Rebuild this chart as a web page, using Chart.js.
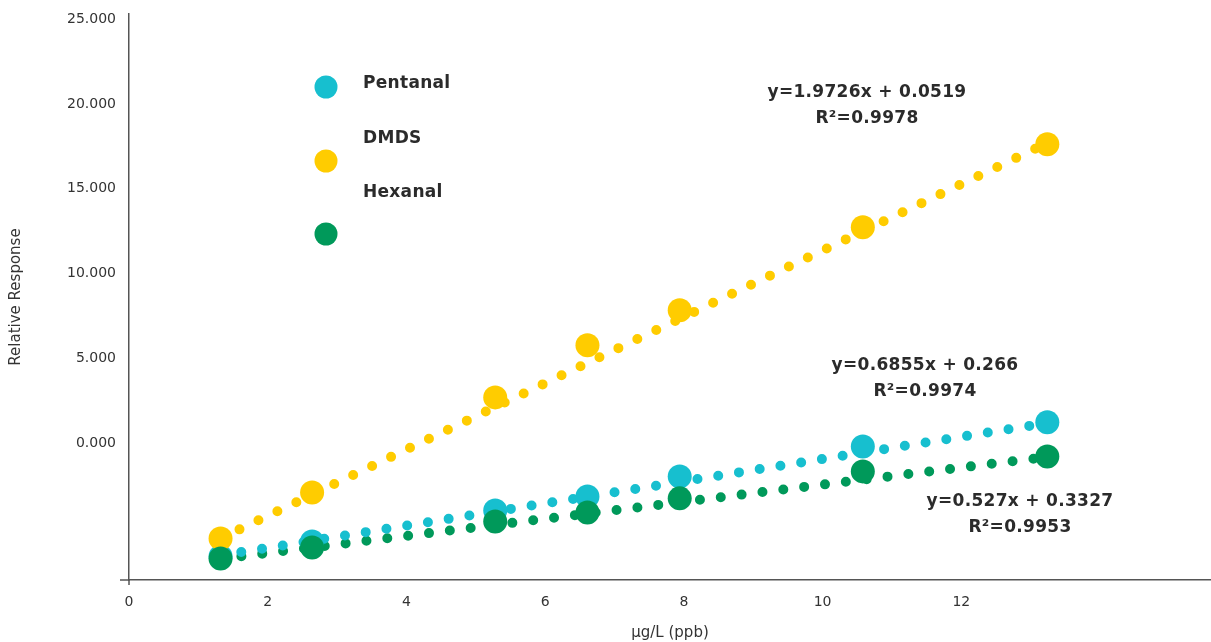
<!DOCTYPE html>
<html>
<head>
<meta charset="utf-8">
<script src="https://cdn.jsdelivr.net/npm/chart.js@4/dist/chart.umd.min.js"></script>
<style>
  html, body { margin: 0; padding: 0; background: #fff; overflow: hidden; }
  #wrap { width: 1211px; height: 642px; position: relative; }
  canvas { display: block; }
</style>
</head>
<body>
<div id="wrap"><canvas id="chart-area"></canvas></div>
<script>
// concentrations (µg/L)
var conc = [1.32, 2.64, 5.28, 6.61, 7.94, 10.58, 13.24];

// relative response (in the chart's own y units)
var pentanal = [-6.66, -5.78, -3.95, -3.13, -1.95, -0.18, 1.24];
var dmds     = [-5.6, -2.89, 2.71, 5.78, 7.84, 12.74, 17.63];
var hexanal  = [-6.78, -6.13, -4.6, -4.07, -3.24, -1.65, -0.77];

// trend line end points
var trendX        = [1.32, 13.24];
var pentanalTrend = [-6.6, 1.2];
var dmdsTrend     = [-5.6, 17.7];
var hexanalTrend  = [-6.8, -0.8];

var yTicks = [0, 5, 10, 15, 20, 25];
var xTicks = [0, 2, 4, 6, 8, 10, 12];

var names  = ['Pentanal', 'DMDS', 'Hexanal'];
var colors = ['#17bfcf', '#ffcc00', '#00995a'];

var equations = [
    ['y=1.9726x + 0.0519', 'R²=0.9978', 867, 93],
    ['y=0.6855x + 0.266', 'R²=0.9974', 925, 366],
    ['y=0.527x + 0.3327', 'R²=0.9953', 1020, 502]
];

function pts(xs, ys) {
    return xs.map(function (x, i) { return { x: x, y: ys[i] }; });
}

function trend(ys, c) {
    return {
        type: 'line',
        data: pts(trendX, ys),
        borderColor: c,
        borderWidth: 10,
        borderDash: [0, 21],
        borderCapStyle: 'round',
        pointRadius: 0,
        fill: false,
        order: 5
    };
}

function marks(label, ys, c, ord) {
    return {
        type: 'scatter',
        label: label,
        data: pts(conc, ys),
        backgroundColor: c,
        borderWidth: 0,
        pointRadius: 12,
        order: ord
    };
}

var extras = {
    id: 'extras',
    afterDraw: function (chart) {
        var ctx = chart.ctx;
        var xs = chart.scales.x, ys = chart.scales.y;
        var x0 = xs.getPixelForValue(0), yb = ys.bottom;
        ctx.save();
        // small axis overhangs at origin
        ctx.strokeStyle = '#555';
        ctx.lineWidth = 1.5;
        ctx.beginPath();
        ctx.moveTo(120, yb); ctx.lineTo(x0, yb);
        ctx.moveTo(x0, yb); ctx.lineTo(x0, yb + 5);
        ctx.stroke();

        // legend
        var circY = [87, 161, 234];
        var textY = [84, 139, 193];
        ctx.font = 'bold 17px "DejaVu Sans", Verdana, sans-serif';
        ctx.letterSpacing = '0.3px';
        ctx.textBaseline = 'middle';
        ctx.textAlign = 'left';
        for (var i = 0; i < names.length; i++) {
            ctx.fillStyle = colors[i];
            ctx.beginPath();
            ctx.arc(326, circY[i], 11.5, 0, Math.PI * 2);
            ctx.fill();
            ctx.fillStyle = '#2b2b2b';
            ctx.fillText(names[i], 363, textY[i]);
        }

        // equations
        ctx.textAlign = 'center';
        equations.forEach(function (e) {
            ctx.fillText(e[0], e[2], e[3]);
            ctx.fillText(e[1], e[2], e[3] + 26);
        });
        ctx.restore();
    }
};

var config = {
    data: {
        datasets: [
            trend(pentanalTrend, colors[0]),
            trend(dmdsTrend, colors[1]),
            trend(hexanalTrend, colors[2]),
            marks('Pentanal', pentanal, colors[0], 3),
            marks('DMDS', dmds, colors[1], 2),
            marks('Hexanal', hexanal, colors[2], 1)
        ]
    },
    options: {
        responsive: true,
        maintainAspectRatio: false,
        animation: false,
        layout: { autoPadding: false, padding: { left: 0, top: 14, right: 0, bottom: 0 } },
        plugins: {
            legend: { display: false },
            tooltip: { enabled: false }
        },
        scales: {
            x: {
                type: 'linear',
                min: 0,
                max: 15.6,
                afterBuildTicks: function (s) { s.ticks = xTicks.map(function (v) { return { value: v }; }); },
                afterFit: function (s) { s.height = 62; s.paddingLeft = 0; s.paddingRight = 0; },
                grid: { display: false, drawTicks: false },
                border: { display: true, color: '#555', width: 1.5 },
                ticks: {
                    padding: 14,
                    color: '#333',
                    font: { family: '"DejaVu Sans", Verdana, sans-serif', size: 14 }
                },
                title: {
                    display: true,
                    text: 'µg/L (ppb)',
                    color: '#333',
                    padding: { top: 6, bottom: 0 },
                    font: { family: '"DejaVu Sans", Verdana, sans-serif', size: 15 }
                }
            },
            y: {
                type: 'linear',
                min: -8.05,
                max: 25.3,
                afterBuildTicks: function (s) { s.ticks = yTicks.map(function (v) { return { value: v }; }); },
                afterFit: function (s) { s.width = 129; s.paddingTop = 0; s.paddingBottom = 0; },
                grid: { display: false, drawTicks: false },
                border: { display: true, color: '#555', width: 1.5 },
                ticks: {
                    padding: 13,
                    color: '#333',
                    font: { family: '"DejaVu Sans", Verdana, sans-serif', size: 14 },
                    callback: function (v) { return v.toFixed(3); }
                },
                title: {
                    display: true,
                    text: 'Relative Response',
                    color: '#333',
                    padding: { top: 7, bottom: 0 },
                    font: { family: '"DejaVu Sans", Verdana, sans-serif', size: 15 }
                }
            }
        }
    },
    plugins: [extras]
};

var ctx = document.getElementById('chart-area').getContext('2d');
var myChart = new Chart(ctx, config);
</script>
</body>
</html>
